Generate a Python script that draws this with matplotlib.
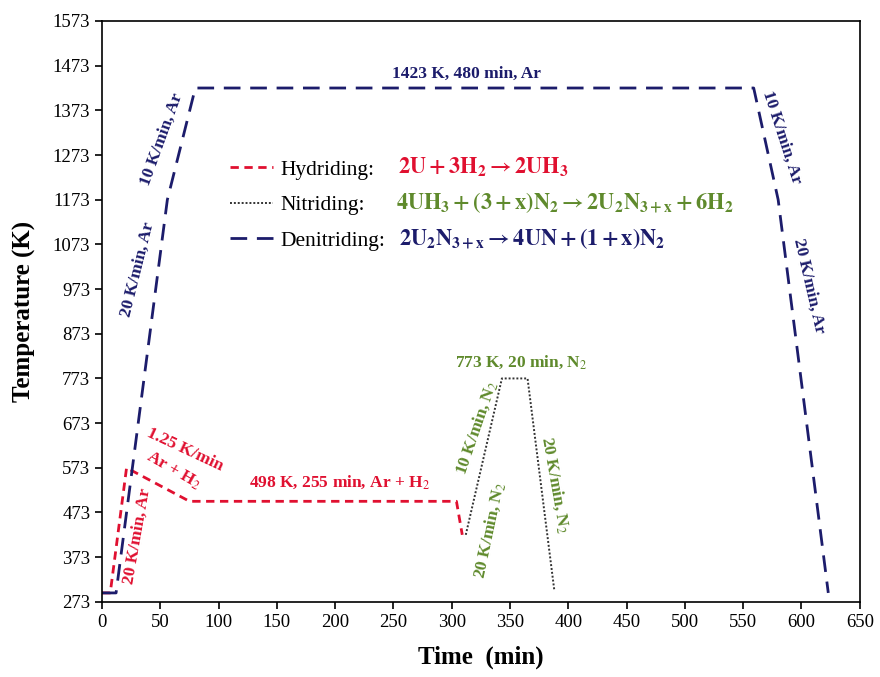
import matplotlib
matplotlib.use('Agg')
import matplotlib.pyplot as plt
import numpy as np

plt.rcParams['font.family'] = ['Liberation Serif', 'DejaVu Serif']
plt.rcParams['mathtext.fontset'] = 'stix'

# heating programme (time in min, temperature in K)
hyd_t = [0, 7, 21, 75, 304, 309]
hyd_T = [293, 293, 573, 498, 498, 423]

nit_t = [312, 343, 365, 388]
nit_T = [423, 773, 773, 298]

den_t = [0, 12, 56, 80, 559, 580, 623]
den_T = [293, 293, 1173, 1423, 1423, 1173, 293]

x_ticks = np.arange(0, 651, 50)
y_ticks = np.arange(273, 1574, 100)

red = '#e01030'
green = '#5f8a2c'
navy = '#1c1c6b'

fig = plt.figure(figsize=(8.8, 6.77), dpi=100)
ax = fig.add_axes([0.116, 0.111, 0.861, 0.858])

l1, = ax.plot(hyd_t, hyd_T, color=red, lw=2, linestyle=(0, (3, 2)))
l2, = ax.plot(nit_t, nit_T, color='#333333', lw=1.4, linestyle=(0, (1, 1)))
l3, = ax.plot(den_t, den_T, color=navy, lw=2, linestyle=(0, (6, 3.5)))

ax.set_xlim(0, 650)
ax.set_ylim(273, 1573)
ax.set_xticks(x_ticks)
ax.set_yticks(y_ticks)
ax.tick_params(direction='out', length=5, width=1.2, labelsize=13.5)
for s in ax.spines.values():
    s.set_linewidth(1.2)

ax.set_xlabel('Time  (min)', fontsize=18, fontweight='bold', labelpad=11)
ax.set_ylabel('Temperature (K)', fontsize=18, fontweight='bold', labelpad=12)

# legend + reactions
ax.legend([l1, l2, l3], ['Hydriding:', 'Nitriding:', 'Denitriding:'],
          loc='upper left', bbox_to_anchor=(0.143, 0.795), frameon=False,
          fontsize=15.5, handlelength=2.0, handletextpad=0.35, labelspacing=0.72)
ax.text(0.39, 0.748, r'$\mathbf{2U + 3H_2 \rightarrow 2UH_3}$', color=red,
        fontsize=16, transform=ax.transAxes, va='center')
ax.text(0.388, 0.687, r'$\mathbf{4UH_3 + (3 + x)N_2 \rightarrow 2U_2N_{3+x} + 6H_2}$',
        color=green, fontsize=16, transform=ax.transAxes, va='center')
ax.text(0.392, 0.626, r'$\mathbf{2U_2N_{3+x} \rightarrow 4UN + (1 + x)N_2}$',
        color=navy, fontsize=16, transform=ax.transAxes, va='center')

# annotations
fs = 12.5
bold = dict(fontsize=fs, fontweight='bold', ha='center', va='center')
ax.text(313, 1454, '1423 K, 480 min, Ar', color=navy, **bold)
ax.text(51, 1309, '10 K/min, Ar', color=navy, rotation=70, **bold)
ax.text(31, 1017, '20 K/min, Ar', color=navy, rotation=76, **bold)
ax.text(583, 1313, '10 K/min, Ar', color=navy, rotation=-72, **bold)
ax.text(606, 981, '20 K/min, Ar', color=navy, rotation=-77, **bold)

ax.text(30, 419, '20 K/min, Ar', color=red, rotation=80, **bold)
ax.text(71, 614, '1.25 K/min', color=red, rotation=-25, **bold)
ax.text(61, 567, r'Ar + H$_2$', color=red, rotation=-30, **bold)
ax.text(204, 540, r'498 K, 255 min, Ar + H$_2$', color=red, **bold)

ax.text(360, 809, r'773 K, 20 min, N$_2$', color=green, **bold)
ax.text(321, 663, r'10 K/min, N$_2$', color=green, rotation=71, **bold)
ax.text(332, 434, r'20 K/min, N$_2$', color=green, rotation=78, **bold)
ax.text(389, 535, r'20 K/min, N$_2$', color=green, rotation=-80, **bold)

fig.savefig('out.png', dpi=100)
